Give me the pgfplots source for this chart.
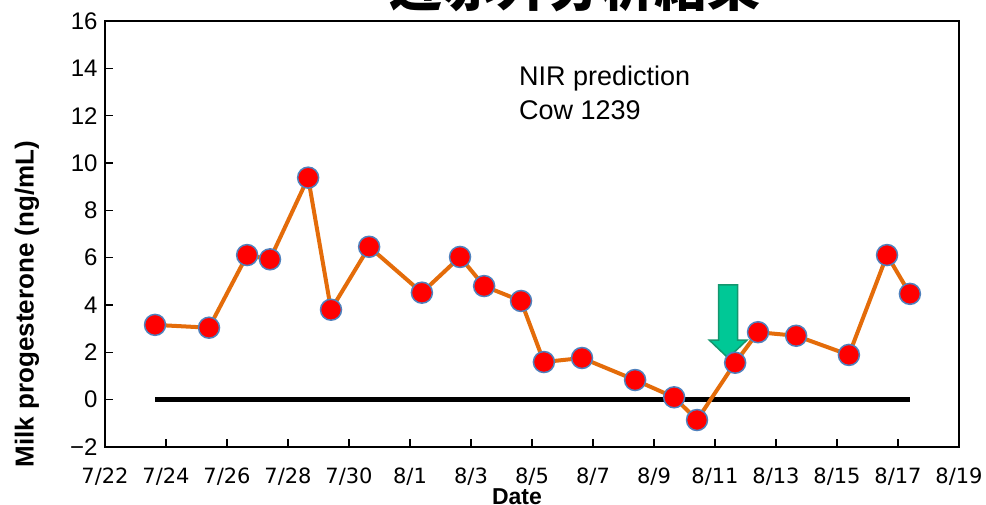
\documentclass[border=0pt]{standalone}
\usepackage{fontspec}
\setmainfont{Liberation Sans}
\newfontfamily\cjk{Noto Sans CJK JP}
\newfontfamily\xfont{DejaVu Sans}
\usepackage{pgfplots}
\pgfplotsset{compat=1.18}
\definecolor{lineorange}{RGB}{228,108,10}
\definecolor{mkblue}{RGB}{79,129,189}
\definecolor{arrowgreen}{RGB}{0,200,150}
\definecolor{arrowedge}{RGB}{20,150,110}
\begin{document}
\begin{tikzpicture}[x=1bp,y=1bp]
\useasboundingbox (0,0) rectangle (986,505);
\begin{axis}[
 at={(105bp,58bp)}, anchor=south west,
 width=854bp, height=426bp, scale only axis,
 xmin=0, xmax=28, ymin=-2, ymax=16,
 xtick={0,2,...,28},
 xticklabels={7/22,7/24,7/26,7/28,7/30,8/1,8/3,8/5,8/7,8/9,8/11,8/13,8/15,8/17,8/19},
 ytick={-2,0,...,16},
 yticklabels={−2,0,2,4,6,8,10,12,14,16},
 tick align=inside, xtick pos=bottom, ytick pos=left,
 major tick length=8bp,
 axis line style={line width=1.5bp},
 tick style={line width=1.2bp, black},
 xticklabel style={font=\xfont\fontsize{21bp}{25bp}\selectfont, inner sep=0pt, yshift=-21bp},
 yticklabel style={font=\fontsize{24bp}{28bp}\selectfont, xshift=-4bp},
 clip=false,
]
\addplot[black, line width=5bp, no marks] coordinates {(1.64,0) (26.39,0)};
\addplot[lineorange, line width=4bp, mark=*, mark size=10.5bp,
  mark options={fill=red, draw=mkblue, line width=1.5bp}] coordinates {
(1.64,3.16) (3.41,3.04) (4.66,6.11) (5.41,5.93) (6.66,9.38) (7.41,3.80)
(8.66,6.46) (10.39,4.52) (11.64,6.03) (12.43,4.80) (13.64,4.17) (14.39,1.59)
(15.64,1.76) (17.38,0.83) (18.66,0.10) (19.41,-0.86) (20.66,1.56) (21.41,2.85)
(22.66,2.70) (24.39,1.89) (25.64,6.11) (26.39,4.47)};
\draw[fill=arrowgreen, draw=arrowedge, line width=1.5bp]
 (axis cs:20.12,4.85) -- (axis cs:20.74,4.85) -- (axis cs:20.74,2.52)
 -- (axis cs:21.05,2.52) -- (axis cs:20.43,1.76) -- (axis cs:19.81,2.52)
 -- (axis cs:20.12,2.52) -- cycle;
\end{axis}
\node[anchor=base west, inner sep=0pt, font=\fontsize{27bp}{31bp}\selectfont] at (519,419) {NIR prediction};
\node[anchor=base west, inner sep=0pt, font=\fontsize{27bp}{31bp}\selectfont] at (519,385) {Cow 1239};
\node[rotate=90, inner sep=0pt, font=\bfseries\fontsize{26bp}{30bp}\selectfont] at (27,201) {Milk progesterone (ng/mL)};
\node[anchor=base, inner sep=0pt, font=\bfseries\fontsize{23bp}{27bp}\selectfont] at (517,0.5) {Date};
\node[anchor=base, inner sep=0pt, font=\cjk\bfseries\fontsize{53bp}{60bp}\selectfont] at (575,498) {近赤外分析結果};
\end{tikzpicture}
\end{document}
